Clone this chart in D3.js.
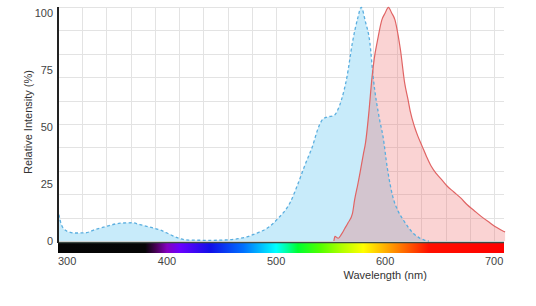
<!DOCTYPE html>
<meta charset="utf-8">
<html lang="en">
<style>
body { margin: 0; background: #fff; }
.grid line { stroke: #e3e3e3; stroke-width: 1px; }
.tick-label { font: 11px Arial, "Liberation Sans", sans-serif; fill: #444; }
.axis-title { font: 11px Arial, "Liberation Sans", sans-serif; fill: #333; }
.ex-area { fill: rgb(200,235,250); }
.ex-line { fill: none; stroke: #5aaedf; stroke-width: 1.3px; stroke-dasharray: 3,2.5; }
.em-area { fill: rgba(240,110,110,0.3); }
.em-line { fill: none; stroke: #e06464; stroke-width: 1.2px; }
</style>
<body>
<div id="chart"></div>
<script src="https://cdn.jsdelivr.net/npm/d3@7"></script>
<script>
// excitation spectrum (dashed blue)
var exNm  = [300, 302, 305, 310, 316, 325, 334, 345, 357, 368, 375, 384, 394, 403, 412, 420, 440, 455, 465, 473, 482, 492, 502, 513, 520, 527, 533, 539, 543, 548, 553, 557, 560, 565, 570, 575, 578, 582, 586, 589, 595, 598, 602, 607, 612, 617, 622, 626, 631, 636, 640];
var exVal = [14, 9, 5.5, 4, 3.5, 3.6, 5, 6.5, 7.8, 8, 7.2, 6.1, 4.8, 2.8, 1, 0.4, 0.3, 0.5, 1, 1.8, 3.4, 5.7, 10, 17, 25, 34, 41, 50, 53.5, 54.5, 55, 58, 62, 72, 87, 98, 102.5, 96, 87, 72, 53, 46, 32, 19.5, 13, 9, 5.5, 3.3, 1.5, 0.4, 0];

// emission spectrum (solid red)
var emNm  = [553, 554, 557, 560, 563, 566, 570, 572, 575, 577, 580, 582, 585, 588, 590, 593, 597, 600, 603, 606, 609, 612, 614, 618, 621, 623, 627, 630, 634, 638, 642, 647, 652, 657, 663, 669, 675, 681, 688, 696, 702, 708, 710];
var emVal = [0, 2, 1.2, 3, 5.5, 8, 12, 18, 25, 30, 38, 43, 56, 72, 80, 88, 97, 100, 102.5, 100, 97, 90, 84, 69, 62, 57, 50, 46, 41.5, 37, 33, 29.5, 26.8, 24, 21.5, 19, 16, 13.6, 10.8, 8, 6, 4.4, 4];

var xTicks = [300, 400, 500, 600, 700];
var yTicks = [0, 25, 50, 75, 100];

// colour bar under the axis
var specNm  = [300, 380, 390, 400, 412, 440, 470, 490, 500, 510, 520, 540, 560, 580, 600, 620, 640, 710];
var specCol = ["#050505", "#060606", "#4a0058", "#8400c0", "#6a00ff", "#1010e8", "#0070ff", "#00d0ff", "#00ffff", "#00ffa0", "#00ff30", "#50ff00", "#b0ff00", "#ffff00", "#ffb000", "#ff6000", "#ff1000", "#ff0000"];

var width = 536, height = 306,
    plotLeft = 58, plotRight = 504, plotTop = 7, plotBase = 241;

var x = d3.scaleLinear().domain([300, 709]).range([plotLeft, plotRight]);
var y = d3.scaleLinear().domain([0, 100]).range([plotBase, 13]);
var yTop = y.invert(plotTop);

function crisp(v) { return Math.round(v) + 0.5; }

var svg = d3.select("#chart").append("svg")
    .attr("width", width)
    .attr("height", height);

// grid: 18 vertical divisions over 300-700, 10 horizontal over the plot height
var grid = svg.append("g").attr("class", "grid");
grid.selectAll("line.gv").data(d3.range(1, 19).map(function(k){ return 300 + k * 400 / 18; }))
  .enter().append("line")
    .attr("class", "gv")
    .attr("x1", function(d){ return crisp(x(d)); }).attr("x2", function(d){ return crisp(x(d)); })
    .attr("y1", plotTop).attr("y2", plotBase);
grid.selectAll("line.gh").data(d3.range(1, 11).map(function(k){ return yTop * k / 10; }))
  .enter().append("line")
    .attr("class", "gh")
    .attr("x1", plotLeft).attr("x2", plotRight)
    .attr("y1", function(d){ return crisp(y(d)); })
    .attr("y2", function(d){ return crisp(y(d)); });

var exData = exNm.map(function(n, i){ return [n, exVal[i]]; });
var emData = emNm.map(function(n, i){ return [n, emVal[i]]; });

var area = d3.area()
    .curve(d3.curveMonotoneX)
    .x(function(d){ return x(d[0]); })
    .y0(y(0))
    .y1(function(d){ return y(d[1]); });
var line = d3.line()
    .curve(d3.curveMonotoneX)
    .x(function(d){ return x(d[0]); })
    .y(function(d){ return y(d[1]); });

svg.append("path").datum(exData).attr("class", "ex-area").attr("d", area);
svg.append("path").datum(emData).attr("class", "em-area").attr("d", area);
svg.append("path").datum(exData).attr("class", "ex-line").attr("d", line);
svg.append("path").datum(emData).attr("class", "em-line").attr("d", line);

// spectrum bar
var grad = svg.append("defs").append("linearGradient")
    .attr("id", "spec")
    .attr("gradientUnits", "userSpaceOnUse")
    .attr("x1", x(300)).attr("x2", x(709)).attr("y1", 0).attr("y2", 0);
grad.selectAll("stop").data(specNm).enter().append("stop")
    .attr("offset", function(d){ return (x(Math.min(d, 709)) - x(300)) / (x(709) - x(300)); })
    .attr("stop-color", function(d, i){ return specCol[i]; });
svg.append("rect")
    .attr("x", plotLeft).attr("y", plotBase + 2)
    .attr("width", plotRight - plotLeft).attr("height", 10)
    .attr("fill", "url(#spec)");

// axes lines
svg.append("line")
    .attr("x1", plotLeft).attr("x2", plotRight)
    .attr("y1", plotBase + 1.5).attr("y2", plotBase + 1.5)
    .attr("stroke", "#3c4a44").attr("stroke-width", 1.5);
svg.append("line")
    .attr("x1", plotLeft).attr("x2", plotLeft)
    .attr("y1", plotTop).attr("y2", plotBase + 2)
    .attr("stroke", "#222").attr("stroke-width", 2);

// tick labels
svg.selectAll(".xt").data(xTicks).enter().append("text")
    .attr("class", "tick-label")
    .attr("x", function(d, i){ return i === 0 ? plotLeft : x(d); })
    .attr("y", 265)
    .attr("text-anchor", function(d, i){ return i === 0 ? "start" : "middle"; })
    .text(function(d){ return d; });
svg.selectAll(".yt").data(yTicks).enter().append("text")
    .attr("class", "tick-label")
    .attr("x", 53)
    .attr("y", function(d){ return y(d) + 4; })
    .attr("text-anchor", "end")
    .text(function(d){ return d; });

svg.append("text")
    .attr("class", "axis-title")
    .attr("x", x(600)).attr("y", 279)
    .attr("text-anchor", "middle")
    .text("Wavelength (nm)");
svg.append("text")
    .attr("class", "axis-title")
    .attr("transform", "translate(32,122) rotate(-90)")
    .attr("text-anchor", "middle")
    .text("Relative Intensity (%)");
</script>
</body>
</html>
